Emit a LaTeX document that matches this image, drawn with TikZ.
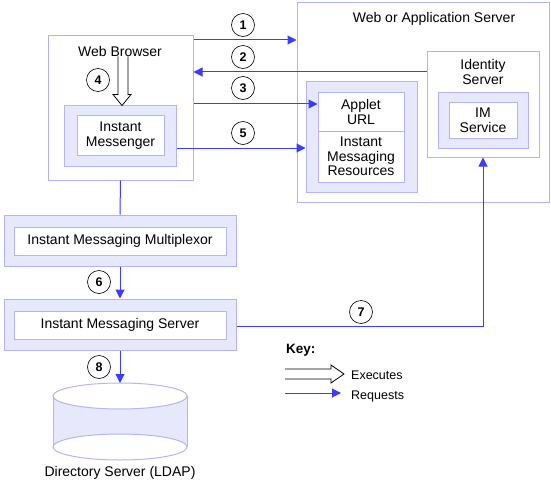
\documentclass[tikz,border=0pt]{standalone}
\usepackage{fontspec}
\setmainfont{Liberation Sans}
\usetikzlibrary{arrows.meta,calc}
\definecolor{reqblue}{RGB}{60,60,255}
\definecolor{bordercol}{RGB}{180,180,248}
\definecolor{shadecol}{RGB}{232,232,252}
\tikzset{
  frame/.style={draw=bordercol, line width=1pt, fill=white, inner sep=0pt},
  shaded/.style={draw=bordercol, line width=1pt, fill=shadecol, inner sep=0pt},
  req/.style={draw=reqblue, line width=1pt, -{Triangle[length=9pt,width=9pt]}},
  plainline/.style={draw=reqblue, line width=1pt},
  exec/.style={draw=black, line width=0.8pt, fill=white},
  num/.style={circle, draw=black, line width=0.6pt, minimum size=23pt, inner sep=0pt,
    font=\bfseries\fontsize{12.5}{12.5}\selectfont, fill=white},
  lbl/.style={font=\fontsize{14}{14.5}\selectfont, align=center, inner sep=0pt},
  keylbl/.style={font=\fontsize{12.5}{13}\selectfont, anchor=west, inner sep=0pt}
}
\begin{document}
\begin{tikzpicture}[x=1pt,y=-1pt]
\useasboundingbox (0,0) rectangle (551,484);
% Web or Application Server
\node[frame, minimum width=252pt, minimum height=199pt] (was) at (423,102.5) {};
\node[lbl] (wastxt) at (434,19) {Web or Application Server};
% Identity server
\node[frame, minimum width=112pt, minimum height=105pt] (ids) at (483,104.5) {};
\node[lbl] (idstxt) at (483,72) {Identity\\Server};
\node[shaded, minimum width=90pt, minimum height=55pt] (imso) at (483,120.5) {};
\node[frame, lbl, minimum width=68pt, minimum height=35pt] (imsi) at (483,120.5) {IM\\Service};
% Applet / resources
\node[shaded, minimum width=111pt, minimum height=110pt] (appout) at (361.5,137) {};
\node[frame, lbl, minimum width=86pt, minimum height=38pt] (appin) at (361,112) {Applet\\URL};
\node[frame, lbl, minimum width=86pt, minimum height=51pt] (resin) at (361,156.5) {Instant\\Messaging\\Resources};
% Web browser
\node[frame, minimum width=145pt, minimum height=144pt] (wb) at (120.5,108) {};
\node[lbl] (wbtxt) at (120,51) {Web Browser};
\node[shaded, minimum width=112pt, minimum height=60pt] (imo) at (120,136) {};
\node[frame, lbl, minimum width=87pt, minimum height=39pt] (imi) at (120.5,135.5) {Instant\\Messenger};
% Multiplexor
\node[shaded, minimum width=232pt, minimum height=51pt] (muxo) at (120,240.5) {};
\node[frame, lbl, minimum width=212pt, minimum height=28pt] (muxi) at (120,241) {Instant Messaging Multiplexor};
% IM server
\node[shaded, minimum width=232pt, minimum height=51pt] (srvo) at (120,324.5) {};
\node[frame, lbl, minimum width=212pt, minimum height=28pt] (srvi) at (120,325) {Instant Messaging Server};
% Directory server cylinder
\coordinate (dbtop) at (120,383);
\fill[shadecol] (53,396) arc[start angle=180, end angle=0, x radius=67, y radius=13]
   -- (187,447) arc[start angle=0, end angle=-180, x radius=67, y radius=13] -- cycle;
\draw[bordercol, line width=1pt] (120,396) ellipse[x radius=67, y radius=13];
\draw[bordercol, line width=1pt] (120,447) ellipse[x radius=67, y radius=13];
\draw[bordercol, line width=1pt] (53,396) -- (53,447) (187,396) -- (187,447);
\node[lbl] (dbtxt) at (120,473) {Directory Server (LDAP)};
% Executes arrow in browser
\draw[exec] ($(imo.north)+(-2,-49)$) -- ($(imo.north)+(-2,-11)$) -- ($(imo.north)+(-7,-11)$)
  -- ($(imo.north)+(2,0)$) -- ($(imo.north)+(11,-11)$) -- ($(imo.north)+(8,-11)$) -- ($(imo.north)+(8,-49)$);
% Requests
\draw[req] (wb.east |- 0,40) -- (was.west |- 0,40);
\draw[req] (ids.west |- 0,72) -- (wb.east |- 0,72);
\draw[req] (wb.east |- 0,104) -- (appin.west |- 0,104);
\draw[req] (imo.east |- 0,148) -- (appout.west |- 0,148);
\draw[plainline] (wb.south) -- (muxo.north);
\draw[req] (muxo.south) -- (srvo.north);
\draw[req] (srvo.east |- 0,326) -| (ids.south);
\draw[req] (srvo.south) -- (dbtop);
% Numbers
\node[num] (c1) at (243,25) {1};
\node[num] (c2) at (243,57) {2};
\node[num] (c3) at (243,88) {3};
\node[num] (c4) at (98,80) {4};
\node[num] (c5) at (243,133) {5};
\node[num] (c6) at (99,282) {6};
\node[num] (c7) at (361,312) {7};
\node[num] (c8) at (99,367) {8};
% Key
\node[font=\bfseries\fontsize{13.5}{14}\selectfont, anchor=west, inner sep=0pt] (key) at (286,350) {Key:};
\draw[exec] (285,369) -- (331,369) -- (331,365) -- (344,374) -- (331,383) -- (331,379) -- (285,379);
\node[keylbl] (exlbl) at (351,375) {Executes};
\coordinate (rqs) at (285,393);
\coordinate (rqe) at (341,393);
\draw[req] (rqs) -- (rqe);
\node[keylbl] (rqlbl) at (351,396) {Requests};
\end{tikzpicture}
\end{document}
